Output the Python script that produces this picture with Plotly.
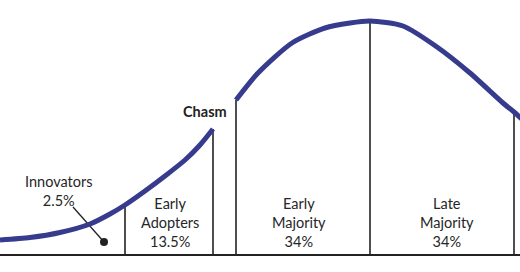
import plotly.graph_objects as go

# Curve samples (x: horizontal position, y: height above baseline)
left_x = [0, 30, 60, 90, 110, 125, 145, 165, 185, 200, 213]
left_y = [15, 17.5, 22.5, 31, 41, 50, 64, 79, 95, 110, 126]
right_x = [236, 258, 292, 325, 350, 370, 403, 437, 470, 503, 514, 525]
right_y = [155, 182, 212, 227, 232, 234, 229, 208, 182, 152, 143, 133]

# Segment boundaries
boundary_x = [125, 213, 236, 370, 514]
boundary_top = [50, 126, 155, 234, 143]

# Segment labels
seg_labels = ["Early<br>Adopters<br>13.5%", "Early<br>Majority<br>34%", "Late<br>Majority<br>34%"]
seg_x = [170, 299, 447]
seg_y = 32.5

innov_label = "Innovators<br>2.5%"
innov_pos = (58, 64)
innov_leader_x = [73, 104]
innov_leader_y = [48, 13]

chasm_text = "Chasm"
chasm_pos = (205, 144)

CURVE = "#363b8e"
INK = "#222222"
TEXT = "#262626"
FONT = "Lato"

fig = go.Figure()

# baseline
fig.add_trace(go.Scatter(x=[0, 520], y=[0, 0], mode="lines",
                         line=dict(color=INK, width=2), hoverinfo="skip"))
# boundaries
for bx, bt in zip(boundary_x, boundary_top):
    fig.add_trace(go.Scatter(x=[bx, bx], y=[0, bt], mode="lines",
                             line=dict(color=INK, width=1.6), hoverinfo="skip"))
# innovators leader
fig.add_trace(go.Scatter(x=innov_leader_x, y=innov_leader_y, mode="lines",
                         line=dict(color=INK, width=1.3), hoverinfo="skip"))
fig.add_trace(go.Scatter(x=[innov_leader_x[1]], y=[innov_leader_y[1]], mode="markers",
                         marker=dict(color=INK, size=8), hoverinfo="skip"))
# curves
for cx, cy in ((left_x, left_y), (right_x, right_y)):
    fig.add_trace(go.Scatter(x=cx, y=cy, mode="lines",
                             line=dict(color=CURVE, width=5, shape="spline", smoothing=0.7),
                             hoverinfo="skip"))

for t, x in zip(seg_labels, seg_x):
    fig.add_annotation(x=x, y=seg_y, text=t, showarrow=False, xanchor="center", yanchor="middle",
                       align="center", borderpad=0,
                       font=dict(family=FONT, size=14.5, color=TEXT))
fig.add_annotation(x=innov_pos[0], y=innov_pos[1], text=innov_label, showarrow=False,
                   xanchor="center", yanchor="middle", align="center", borderpad=0,
                   font=dict(family=FONT, size=14.5, color=TEXT))
fig.add_annotation(x=chasm_pos[0], y=chasm_pos[1], text="<b>" + chasm_text + "</b>", showarrow=False,
                   xanchor="center", yanchor="middle", borderpad=0,
                   font=dict(family=FONT, size=14.5, color=INK))

fig.update_layout(width=520, height=272, margin=dict(l=0, r=0, t=0, b=0),
                  paper_bgcolor="white", plot_bgcolor="white", showlegend=False,
                  xaxis=dict(range=[0, 520], visible=False, fixedrange=True),
                  yaxis=dict(range=[-17, 255], visible=False, fixedrange=True))
fig.write_html("out.html")
